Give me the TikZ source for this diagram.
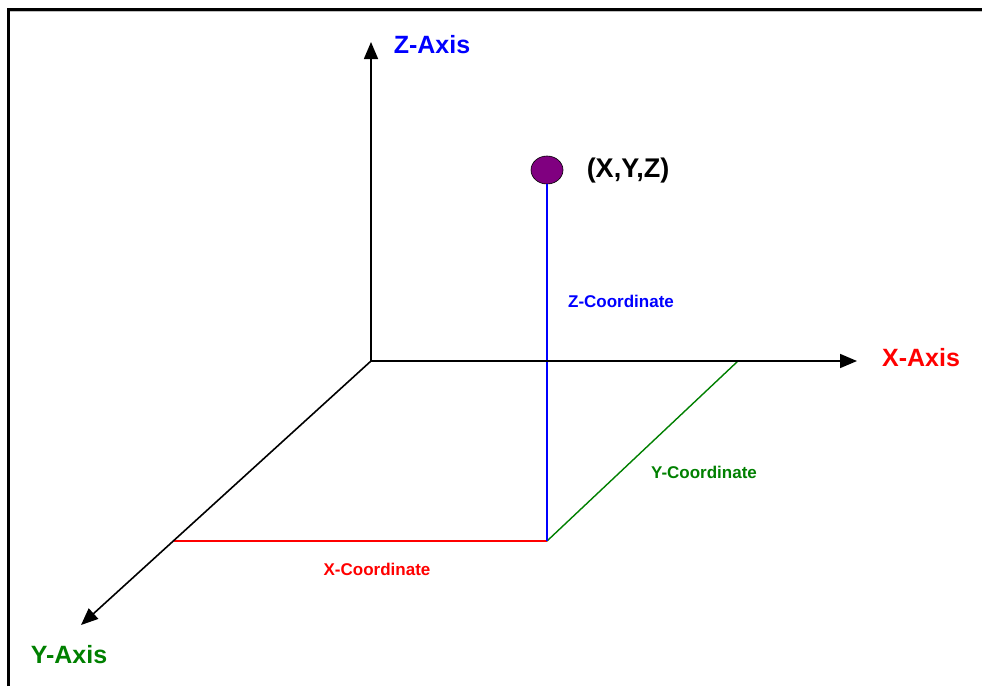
\documentclass[tikz,border=0pt]{standalone}
\usepackage{fontspec}
\setmainfont{Liberation Sans}
\usetikzlibrary{arrows.meta,shapes.geometric}
\definecolor{ptpurple}{RGB}{128,0,128}
\definecolor{axgreen}{RGB}{0,128,0}
\begin{document}
\begin{tikzpicture}[x=1pt,y=-1pt,
  axis/.style={line width=1.6pt,-{Triangle[length=17pt,width=14pt]}},
  biglabel/.style={font=\fontsize{25}{25}\selectfont\bfseries,inner sep=0pt},
  smalllabel/.style={font=\fontsize{17}{17}\selectfont\bfseries,inner sep=0pt},
  coordline/.style={line width=1.4pt}]
\useasboundingbox (0,0) rectangle (982,686);
\fill[white] (0,0) rectangle (982,686);
% frame
\draw[line width=3pt] (8,686) -- (8,9) -- (982,9);
\draw[gray!50,line width=1pt] (10,11.5) -- (982,11.5);
% points
\coordinate (O) at (371,361);
\coordinate (ZT) at (371,42);
\coordinate (XT) at (857,361);
\coordinate (YT) at (81,625);
\coordinate (B) at (547,541);
\coordinate (XC) at (174,541);
\coordinate (YC) at (738,361);
% coordinate lines
\draw[coordline,red] (XC) -- (B);
\draw[coordline,axgreen] (B) -- (YC);
\node[draw=black,line width=0.6pt,fill=ptpurple,ellipse,minimum width=32pt,minimum height=28pt,inner sep=0pt] (P) at (547,170) {};
\draw[coordline,blue] (P.south) -- (B);
% axes
\draw[axis] (O) -- (ZT);
\draw[axis] (O) -- (XT);
\draw[axis] (O) -- (YT);
% labels
\node[biglabel,blue] (zl) at (432,45) {Z-Axis};
\node[biglabel,red] (xl) at (921,358) {X-Axis};
\node[biglabel,axgreen] (yl) at (69,655) {Y-Axis};
\node[font=\fontsize{27}{27}\selectfont\bfseries,inner sep=0pt,black] (pl) at (628,171) {(X,Y,Z)};
\node[smalllabel,blue] (zc) at (621,301) {Z-Coordinate};
\node[smalllabel,axgreen] (yc) at (704,472) {Y-Coordinate};
\node[smalllabel,red] (xc) at (377,569) {X-Coordinate};
\end{tikzpicture}
\end{document}
